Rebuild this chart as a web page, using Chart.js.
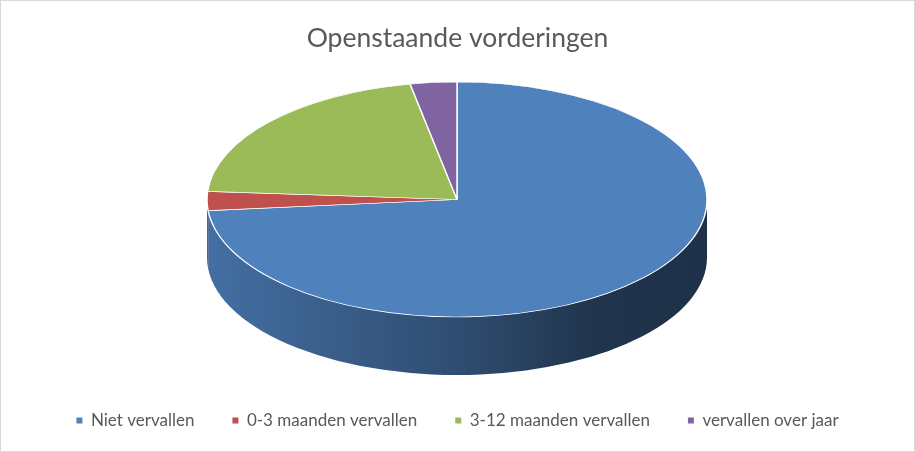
<!DOCTYPE html>
<html>
<head>
<meta charset="utf-8">
<script src="https://cdn.jsdelivr.net/npm/chart.js@4.4.1/dist/chart.umd.min.js"></script>
<style>
    html, body { margin: 0; padding: 0; background: #fff; }
    .chart-box {
        width: 915px; height: 452px;
        border: 1px solid #d9d9d9; box-sizing: border-box;
        position: relative;
    }
</style>
</head>
<body>
<div class="chart-box"><canvas id="chart"></canvas></div>
<script>
var categories = ['Niet vervallen', '0-3 maanden vervallen', '3-12 maanden vervallen', 'vervallen over jaar'];
var values = [73.5, 2.6, 20.9, 3.0];
var sliceColors = ['#4f81bd', '#c0504d', '#9bbb59', '#8064a2'];

// where the tilted pie sits on the canvas (ellipse of the top face + wall height)
var tilt = { cx: 456, cy: 198.5, rx: 250, ry: 117.5, depth: 58 };

function shade(hex, f) {
    var n = parseInt(hex.slice(1), 16);
    return 'rgb(' + Math.round((n >> 16 & 255) * f) + ',' +
        Math.round((n >> 8 & 255) * f) + ',' + Math.round((n & 255) * f) + ')';
}

// parts of a slice that face the viewer (lower half of the ellipse)
function frontSpans(a0, a1) {
    var out = [];
    [0, 2 * Math.PI, -2 * Math.PI].forEach(function (off) {
        var s = Math.max(a0, off), e = Math.min(a1, off + Math.PI);
        if (e > s) out.push([s, e]);
    });
    return out;
}

var pie3d = {
    id: 'pie3d',
    beforeDatasetsDraw: function (chart) {
        var ctx = chart.ctx;
        var meta = chart.getDatasetMeta(0);
        var colors = chart.data.datasets[0].backgroundColor;

        // side wall first
        meta.data.forEach(function (arc, i) {
            frontSpans(arc.startAngle, arc.endAngle).forEach(function (span) {
                var g = ctx.createLinearGradient(tilt.cx - tilt.rx, 0, tilt.cx + tilt.rx, 0);
                g.addColorStop(0, shade(colors[i], 0.86));
                g.addColorStop(0.5, shade(colors[i], 0.6));
                g.addColorStop(0.78, shade(colors[i], 0.4));
                g.addColorStop(1, shade(colors[i], 0.38));
                ctx.save();
                ctx.beginPath();
                ctx.ellipse(tilt.cx, tilt.cy, tilt.rx, tilt.ry, 0, span[0], span[1], false);
                ctx.ellipse(tilt.cx, tilt.cy + tilt.depth, tilt.rx, tilt.ry, 0, span[1], span[0], true);
                ctx.closePath();
                ctx.fillStyle = g;
                ctx.fill();
                ctx.restore();
            });
        });

        // squash the round pie into the top face ellipse
        var first = meta.data[0];
        ctx.save();
        ctx.translate(tilt.cx, tilt.cy);
        ctx.scale(tilt.rx / first.outerRadius, tilt.ry / first.outerRadius);
        ctx.translate(-first.x, -first.y);
    },
    afterDatasetsDraw: function (chart) {
        chart.ctx.restore();
    }
};

var textColor = '#595959';

new Chart(document.getElementById('chart').getContext('2d'), {
    type: 'pie',
    data: {
        labels: categories,
        datasets: [{
            data: values,
            backgroundColor: sliceColors,
            borderColor: '#ffffff',
            borderWidth: 0.9
        }]
    },
    options: {
        responsive: true,
        maintainAspectRatio: false,
        animation: false,
        events: [],
        layout: { padding: { top: 0, bottom: 12, left: 0, right: 0 } },
        plugins: {
            title: {
                display: true,
                text: 'Openstaande vorderingen',
                color: textColor,
                font: { family: 'Lato', size: 26.5, weight: 'normal' },
                padding: { top: 22, bottom: 10 }
            },
            legend: {
                position: 'bottom',
                labels: {
                    color: textColor,
                    font: { family: 'Lato', size: 17 },
                    boxWidth: 6,
                    boxHeight: 6,
                    padding: 38,
                    generateLabels: function (chart) {
                        var items = Chart.overrides.pie.plugins.legend.labels.generateLabels(chart);
                        items.forEach(function (it) { it.lineWidth = 0; });
                        return items;
                    }
                }
            },
            tooltip: { enabled: false }
        }
    },
    plugins: [pie3d]
});
</script>
</body>
</html>
